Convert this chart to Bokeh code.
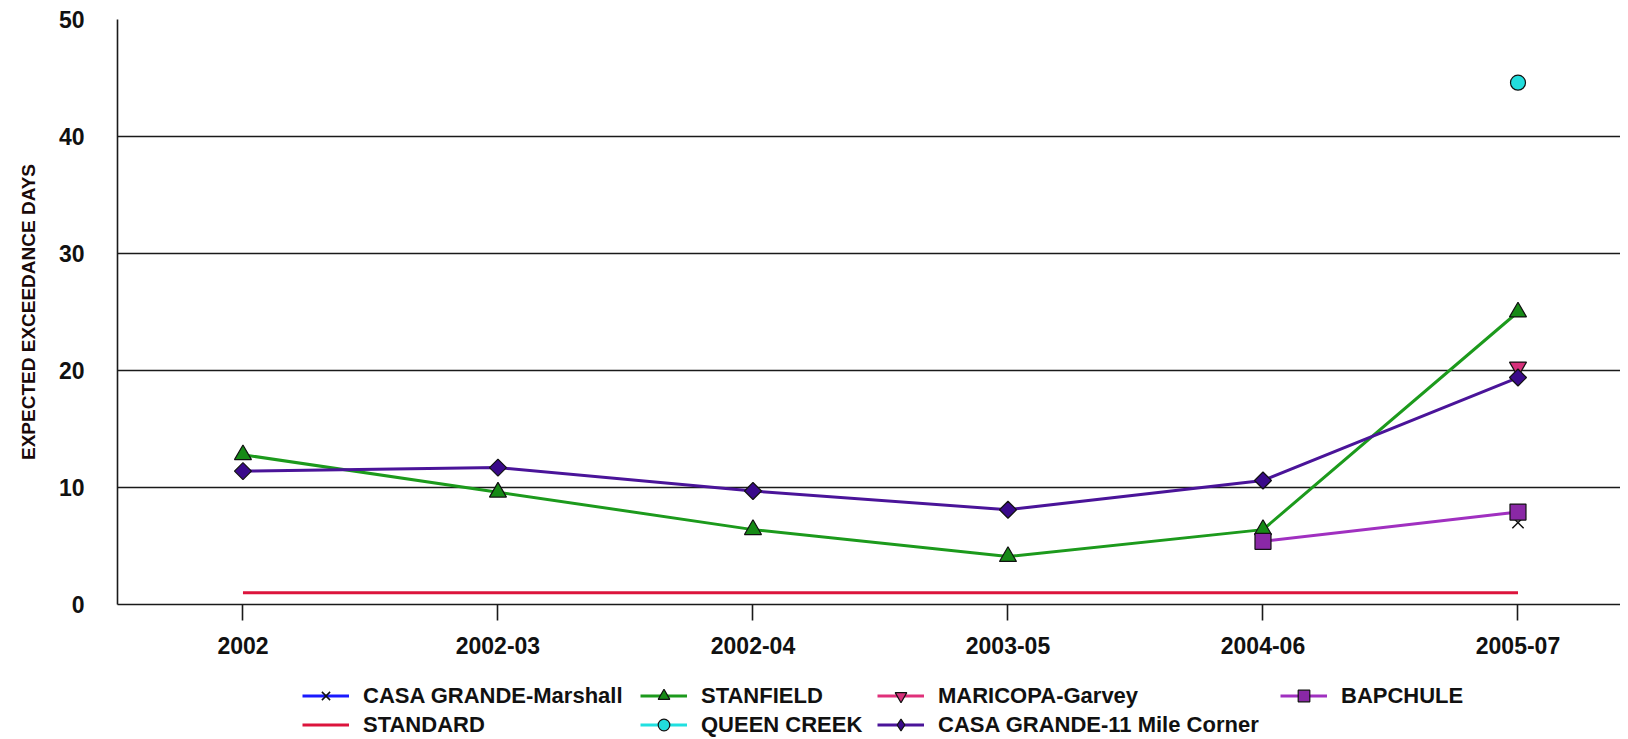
import math
from bokeh.plotting import figure
from bokeh.layouts import column
from bokeh.models import ColumnDataSource, FixedTicker, Legend, LegendItem, Range1d
from bokeh.embed import file_html
from bokeh.resources import INLINE

# ---- data ----
periods = ["2002", "2002-03", "2002-04", "2003-05", "2004-06", "2005-07"]
standard = [1, 1, 1, 1, 1, 1]
stanfield = [12.8, 9.6, 6.4, 4.1, 6.4, 25.0]
casa_11mile = [11.4, 11.7, 9.7, 8.1, 10.6, 19.4]
bapchule = [None, None, None, None, 5.4, 7.9]
casa_marshall = [None, None, None, None, None, 7.0]
maricopa_garvey = [None, None, None, None, None, 20.3]
queen_creek = [None, None, None, None, None, 44.6]
y_ticks = [0, 10, 20, 30, 40, 50]

FONT = "Liberation Sans"

# series styles: (line colour, marker, marker size, fill colour, angle)
STYLES = {
    "STANDARD": ("#dc143c", None, 0, None, 0),
    "CASA GRANDE-Marshall": ("#1a1aff", "x", 16, None, 0),
    "STANFIELD": ("#1c9a1c", "triangle", 17, "#168a16", 0),
    "MARICOPA-Garvey": ("#e0307a", "inverted_triangle", 17, "#d6307a", 0),
    "CASA GRANDE-11 Mile Corner": ("#4a1499", "square", 12, "#3a0a8a", math.pi / 4),
    "BAPCHULE": ("#a030c0", "square", 16, "#8a28a6", 0),
    "QUEEN CREEK": ("#20e0e0", "circle", 15, "#22dddd", 0),
}


def src(vals):
    xs = [i for i, v in enumerate(vals) if v is not None]
    ys = [v for v in vals if v is not None]
    return ColumnDataSource(dict(x=xs, y=ys))


def draw(fig, name, source, legend=False):
    lc, mk, sz, fc, ang = STYLES[name]
    if legend and mk == "square" and ang:
        mk, ang = "diamond", 0  # legend glyphs ignore the angle
    rs = [fig.line("x", "y", source=source, line_color=lc, line_width=3)]
    if mk is not None:
        if mk == "x":
            rs.append(fig.scatter("x", "y", source=source, marker="x", size=sz,
                                  line_color="#111111", line_width=1.5))
        else:
            rs.append(fig.scatter("x", "y", source=source, marker=mk, size=sz,
                                  angle=ang, fill_color=fc, line_color="#111111",
                                  line_width=1.2))
    return rs


p = figure(width=1620, height=672, output_backend="svg", toolbar_location=None,
           x_range=Range1d(-0.492, 5.402), y_range=Range1d(0, 50),
           min_border_left=117, min_border_right=0, min_border_top=19,
           min_border_bottom=68)
p.outline_line_color = None
p.background_fill_color = "white"
p.border_fill_color = "white"

# grid
p.xgrid.visible = False
p.ygrid.ticker = FixedTicker(ticks=[10, 20, 30, 40, 50])
p.ygrid.grid_line_color = "#1a1a1a"
p.ygrid.grid_line_width = 1.6

# y axis
p.yaxis.ticker = FixedTicker(ticks=y_ticks)
p.yaxis.major_tick_out = 0
p.yaxis.major_tick_in = 0
p.yaxis.minor_tick_out = 0
p.yaxis.minor_tick_in = 0
p.yaxis.major_label_standoff = 33
p.yaxis.axis_line_color = "#1a1a1a"
p.yaxis.axis_line_width = 1.6
p.yaxis.major_label_text_font = FONT
p.yaxis.major_label_text_font_style = "bold"
p.yaxis.major_label_text_font_size = "23px"
p.yaxis.major_label_text_color = "#111111"
p.yaxis.axis_label = "EXPECTED EXCEEDANCE DAYS"
p.yaxis.axis_label_text_font = FONT
p.yaxis.axis_label_text_font_style = "bold"
p.yaxis.axis_label_text_font_size = "19px"
p.yaxis.axis_label_text_color = "#1a0a0a"
p.yaxis.axis_label_standoff = 17

# x axis
p.xaxis.ticker = FixedTicker(ticks=list(range(len(periods))))
p.xaxis.major_label_overrides = {i: lab for i, lab in enumerate(periods)}
p.xaxis.major_tick_out = 16
p.xaxis.major_tick_in = 0
p.xaxis.minor_tick_out = 0
p.xaxis.minor_tick_in = 0
p.xaxis.major_tick_line_color = "#1a1a1a"
p.xaxis.major_tick_line_width = 1.6
p.xaxis.axis_line_color = "#1a1a1a"
p.xaxis.axis_line_width = 1.6
p.xaxis.major_label_standoff = 16
p.xaxis.major_label_text_font = FONT
p.xaxis.major_label_text_font_style = "bold"
p.xaxis.major_label_text_font_size = "23px"
p.xaxis.major_label_text_color = "#111111"

# ---- series (drawing order as in the reference) ----
series = [
    ("STANDARD", standard),
    ("CASA GRANDE-Marshall", casa_marshall),
    ("STANFIELD", stanfield),
    ("MARICOPA-Garvey", maricopa_garvey),
    ("CASA GRANDE-11 Mile Corner", casa_11mile),
    ("BAPCHULE", bapchule),
    ("QUEEN CREEK", queen_creek),
]
for name, vals in series:
    draw(p, name, src(vals))

# ---- legend strip (separate figure below the chart) ----
lf = figure(width=1620, height=67, output_backend="svg", toolbar_location=None,
            x_range=Range1d(0, 1), y_range=Range1d(0, 1),
            min_border_left=0, min_border_right=0, min_border_top=0,
            min_border_bottom=0)
lf.axis.visible = False
lf.grid.visible = False
lf.outline_line_color = None
lf.background_fill_color = "white"
lf.border_fill_color = "white"


def offscreen():
    # proxy renderers for the legend, placed outside the strip's visible range
    return ColumnDataSource(dict(x=[-10, -9], y=[-10, -10]))


leg_r = {name: draw(lf, name, offscreen(), legend=True) for name, _ in series}

LEFT = 117  # the strip's frame is aligned with the chart's frame


def add_legend(names, x, y):
    items = [LegendItem(label=n, renderers=leg_r[n]) for n in names]
    lg = Legend(items=items, location=(x - LEFT, y), orientation="vertical",
                padding=0, margin=0, spacing=0,
                glyph_width=47, glyph_height=29, label_height=29,
                label_standoff=14,
                label_text_font=FONT, label_text_font_style="bold",
                label_text_font_size="22px", label_text_color="#111111",
                border_line_color=None, background_fill_alpha=0)
    lf.add_layout(lg, "center")


add_legend(["CASA GRANDE-Marshall", "STANDARD"], 302, 0)
add_legend(["STANFIELD", "QUEEN CREEK"], 640, 0)
add_legend(["MARICOPA-Garvey", "CASA GRANDE-11 Mile Corner"], 877, 0)
add_legend(["BAPCHULE"], 1280, 29)

layout = column(p, lf, spacing=0)
open("out.html", "w").write(file_html(layout, INLINE))
